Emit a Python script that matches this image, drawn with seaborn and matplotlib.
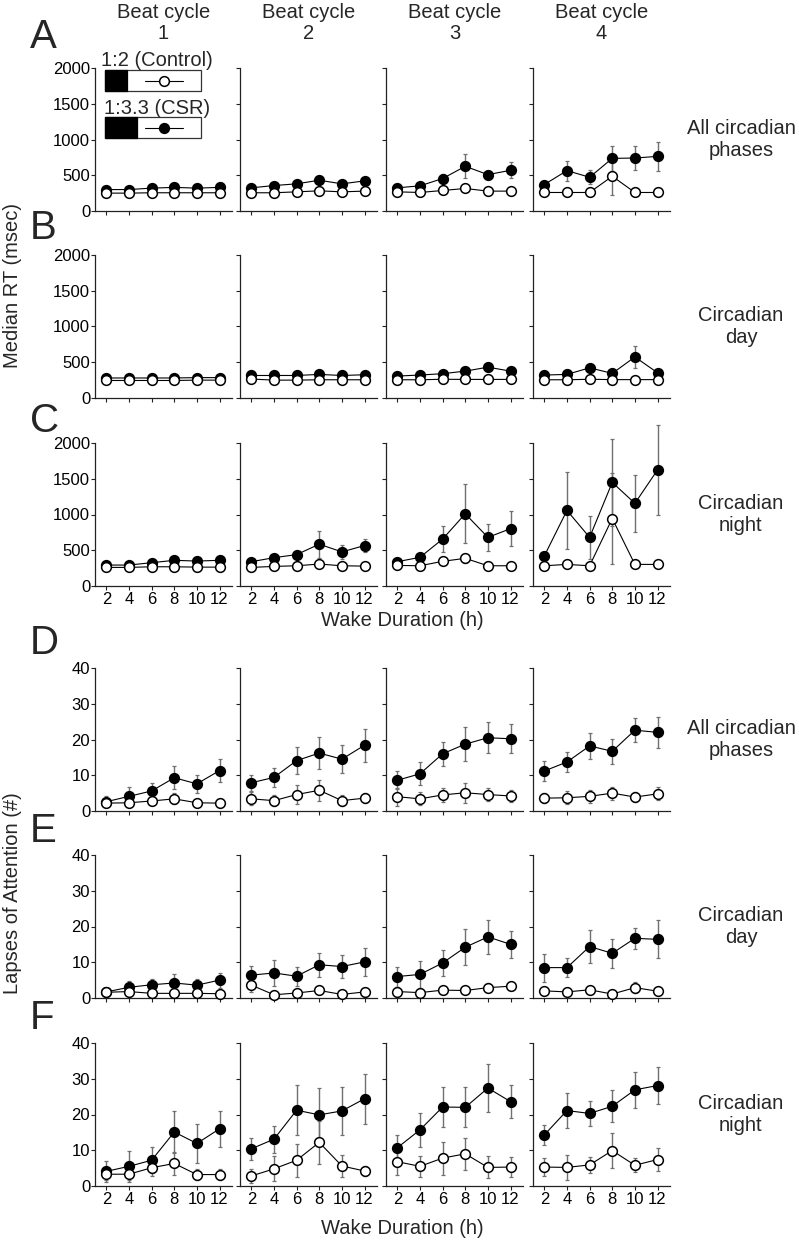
import pandas as pd
import matplotlib.pyplot as plt
import seaborn as sns
from matplotlib.patches import Rectangle
from matplotlib.lines import Line2D

hours = [2, 4, 6, 8, 10, 12]
cycles = [1, 2, 3, 4]

# Median RT (msec), all circadian phases
rt_all_ctrl = [[250, 250, 255, 255, 255, 255], [255, 255, 268, 282, 268, 278],
               [268, 259, 287, 315, 278, 278], [259, 259, 259, 486, 259, 259]]
rt_all_ctrl_err = [[20] * 6, [20, 20, 25, 30, 20, 25],
                   [20, 20, 30, 40, 25, 25], [20, 20, 25, 260, 25, 25]]
rt_all_csr = [[300, 300, 320, 330, 320, 330], [324, 356, 380, 430, 380, 421],
              [324, 352, 454, 625, 509, 569], [370, 565, 472, 736, 741, 764]]
rt_all_csr_err = [[20] * 6, [25, 30, 30, 40, 30, 35],
                  [30, 30, 60, 170, 55, 110], [40, 140, 100, 180, 170, 200]]

# Median RT, circadian day
rt_day_ctrl = [[245, 245, 245, 245, 250, 250], [265, 250, 250, 255, 255, 255],
               [255, 255, 262, 260, 260, 260], [255, 255, 262, 257, 257, 257]]
rt_day_ctrl_err = [[20] * 6, [20] * 6, [20] * 6, [20] * 6]
rt_day_csr = [[280, 280, 280, 280, 285, 285], [315, 315, 315, 330, 315, 325],
              [307, 321, 340, 376, 431, 376], [321, 330, 422, 344, 574, 353]]
rt_day_csr_err = [[20] * 6, [20] * 6, [20, 20, 25, 30, 35, 30],
                  [20, 20, 40, 30, 160, 40]]

# Median RT, circadian night
rt_night_ctrl = [[260, 260, 269, 269, 264, 264], [260, 274, 283, 307, 283, 278],
                 [288, 283, 345, 387, 283, 283], [283, 302, 283, 944, 302, 302]]
rt_night_ctrl_err = [[20] * 6, [20, 20, 30, 40, 30, 20],
                     [20, 25, 40, 60, 20, 20], [20, 30, 20, 640, 30, 30]]
rt_night_csr = [[293, 293, 326, 359, 349, 359], [340, 396, 439, 585, 477, 566],
                [340, 401, 656, 1010, 680, 802], [420, 1057, 680, 1449, 1156, 1624]]
rt_night_csr_err = [[20, 20, 20, 25, 25, 25], [30, 40, 45, 190, 95, 95],
                    [30, 40, 180, 410, 190, 240], [40, 540, 300, 610, 400, 630]]

# Lapses of attention (#), all circadian phases
lp_all_ctrl = [[2.2, 2.3, 2.8, 3.4, 2.3, 2.2], [3.4, 2.9, 4.6, 5.8, 2.9, 3.6],
               [4.0, 3.4, 4.5, 5.1, 4.6, 4.2], [3.6, 3.7, 4.1, 5.0, 3.9, 4.8]]
lp_all_ctrl_err = [[1.2, 1.2, 1.2, 1.5, 1.0, 1.0], [1.8, 1.5, 2.7, 3.0, 1.5, 1.5],
                   [2.5, 1.8, 2.0, 2.8, 1.8, 1.8], [1.5, 1.8, 1.8, 1.8, 1.5, 1.8]]
lp_all_csr = [[2.6, 4.1, 5.6, 9.3, 7.6, 11.3], [7.9, 9.4, 14.1, 16.2, 14.5, 18.4],
              [8.6, 10.4, 16.0, 18.7, 20.5, 20.2], [11.2, 13.7, 18.2, 16.7, 22.6, 22.0]]
lp_all_csr_err = [[1.5, 2.5, 2.2, 3.2, 2.6, 3.2], [2.2, 2.6, 3.8, 4.4, 3.9, 4.6],
                  [2.5, 3.2, 3.4, 4.8, 4.4, 4.1], [2.9, 2.8, 3.7, 3.5, 3.4, 4.3]]

# Lapses, circadian day
lp_day_ctrl = [[1.6, 1.8, 1.3, 1.3, 1.3, 1.2], [3.6, 0.9, 1.4, 2.1, 1.0, 1.7],
               [1.8, 1.5, 2.2, 2.1, 2.9, 3.3], [2.0, 1.7, 2.3, 1.1, 2.9, 1.9]]
lp_day_ctrl_err = [[0.8] * 6, [2.0, 0.6, 1.0, 0.8, 0.6, 0.8],
                   [1.2, 1.0, 1.0, 0.8, 1.2, 1.2], [1.0, 0.8, 0.8, 0.8, 1.5, 0.8]]
lp_day_csr = [[1.7, 3.0, 3.7, 4.2, 3.6, 5.0], [6.4, 7.0, 6.1, 9.3, 8.8, 10.1],
              [6.0, 6.6, 9.8, 14.2, 17.1, 15.0], [8.5, 8.5, 14.4, 12.5, 16.7, 16.4]]
lp_day_csr_err = [[1.0, 1.8, 1.5, 2.4, 1.6, 2.1], [2.6, 3.7, 2.7, 3.3, 3.2, 3.9],
                  [2.8, 3.7, 3.6, 5.0, 4.7, 3.8], [3.9, 2.7, 4.7, 4.0, 2.9, 5.3]]

# Lapses, circadian night
lp_night_ctrl = [[3.3, 3.3, 5.1, 6.3, 3.2, 3.2], [2.8, 4.8, 7.2, 12.2, 5.6, 4.2],
                 [6.8, 5.5, 7.8, 9.0, 5.2, 5.3], [5.3, 5.2, 5.9, 9.9, 5.8, 7.4]]
lp_night_ctrl_err = [[1.7, 1.7, 2.2, 3.2, 1.5, 1.5], [2.0, 3.5, 4.6, 6.0, 3.0, 1.5],
                     [3.8, 3.0, 4.6, 4.5, 3.1, 2.7], [2.6, 3.4, 2.3, 5.0, 2.0, 3.2]]
lp_night_csr = [[4.1, 5.5, 7.2, 15.1, 11.9, 16.0], [10.4, 13.1, 21.2, 19.9, 21.0, 24.4],
                [10.7, 15.7, 22.1, 22.0, 27.4, 23.6], [14.3, 21.1, 20.3, 22.3, 26.9, 28.1]]
lp_night_csr_err = [[2.9, 4.3, 3.6, 5.8, 5.5, 5.0], [3.0, 3.8, 7.0, 7.4, 6.8, 7.0],
                    [3.6, 4.7, 5.6, 5.6, 6.7, 4.7], [2.9, 5.0, 3.6, 4.5, 5.1, 5.3]]

row_letters = ["A", "B", "C", "D", "E", "F"]
row_names = ["All circadian\nphases", "Circadian\nday", "Circadian\nnight"] * 2

panels = [
    (rt_all_ctrl, rt_all_ctrl_err, rt_all_csr, rt_all_csr_err),
    (rt_day_ctrl, rt_day_ctrl_err, rt_day_csr, rt_day_csr_err),
    (rt_night_ctrl, rt_night_ctrl_err, rt_night_csr, rt_night_csr_err),
    (lp_all_ctrl, lp_all_ctrl_err, lp_all_csr, lp_all_csr_err),
    (lp_day_ctrl, lp_day_ctrl_err, lp_day_csr, lp_day_csr_err),
    (lp_night_ctrl, lp_night_ctrl_err, lp_night_csr, lp_night_csr_err),
]

records = []
for r, (ctrl, ctrl_err, csr, csr_err) in enumerate(panels):
    for c, cyc in enumerate(cycles):
        for grp, vals, errs in [("Control", ctrl, ctrl_err), ("CSR", csr, csr_err)]:
            for h, v, e in zip(hours, vals[c], errs[c]):
                records.append({"row": r, "cycle": cyc, "hours": h, "group": grp,
                                "value": v, "err": e})
df = pd.DataFrame(records)

sns.set_theme(style="ticks")
plt.rcParams["font.family"] = ["Liberation Sans", "DejaVu Sans"]

W, H = 799, 1260
fig = plt.figure(figsize=(W / 100, H / 100), dpi=100)

col_left = [95, 240, 386, 533]
row_top = [68, 255, 443, 668, 855, 1043]
aw, ah = 137, 143


def fx(x):
    return x / W


def fy(y):
    return 1 - y / H


for r in range(6):
    for c in range(4):
        ax = fig.add_axes([fx(col_left[c]), fy(row_top[r] + ah), aw / W, ah / H])
        sub = df[(df["row"] == r) & (df["cycle"] == cycles[c])]
        for grp, face, z in [("CSR", "black", 3), ("Control", "white", 4)]:
            g = sub[sub["group"] == grp]
            ax.errorbar(g["hours"], g["value"], yerr=g["err"], fmt="none",
                        ecolor="#707070", elinewidth=1.0, capsize=1.6,
                        capthick=0.9, zorder=1, clip_on=False)
            sns.lineplot(data=g, x="hours", y="value", ax=ax, color="black",
                         lw=0.8, marker="o", markersize=7, markerfacecolor=face,
                         markeredgecolor="black", markeredgewidth=1.1,
                         zorder=z, clip_on=False, legend=False, errorbar=None)
        ax.set_xlim(1.0, 13.1)
        ax.set_xticks(hours)
        if r < 3:
            ax.set_ylim(0, 2000)
            ax.set_yticks([0, 500, 1000, 1500, 2000])
        else:
            ax.set_ylim(0, 40)
            ax.set_yticks([0, 10, 20, 30, 40])
        ax.set_xlabel("")
        ax.set_ylabel("")
        sns.despine(ax=ax)
        for s in ["left", "bottom"]:
            ax.spines[s].set_linewidth(0.9)
            ax.spines[s].set_color("#222222")
        ax.tick_params(direction="out", length=3, width=0.8, color="#222222",
                       labelsize=12, labelcolor="black")
        ax.tick_params(axis="y", pad=0.5)
        ax.tick_params(axis="x", pad=1.5)
        if c > 0:
            ax.tick_params(labelleft=False)
        if r not in (2, 5):
            ax.tick_params(labelbottom=False)

# column titles
for c, cyc in enumerate(cycles):
    fig.text(fx(col_left[c] + aw / 2), fy(3), f"Beat cycle\n{cyc}", ha="center",
             va="top", fontsize=14.5, linespacing=1.15)

# row letters and row names
letter_y = [37, 228, 421, 643, 831, 1018]
for r in range(6):
    fig.text(fx(30), fy(letter_y[r]), row_letters[r], ha="left", va="center",
             fontsize=29)
    fig.text(fx(741), fy(row_top[r] + ah / 2), row_names[r], ha="center",
             va="center", fontsize=14.5, linespacing=1.15)

# axis labels
fig.text(fx(13), fy(285), "Median RT (msec)", rotation=90, ha="center",
         va="center", fontsize=14.5)
fig.text(fx(13), fy(893), "Lapses of Attention (#)", rotation=90, ha="center",
         va="center", fontsize=14.5)
fig.text(fx(402), fy(620), "Wake Duration (h)", ha="center", va="center",
         fontsize=14.5)
fig.text(fx(402), fy(1229), "Wake Duration (h)", ha="center", va="center",
         fontsize=14.5)

# schedule legend
legend_items = [("1:2 (Control)", 61, 70, 22, "white"),
                ("1:3.3 (CSR)", 108, 117, 32, "black")]
for label, ty, by, black_w, face in legend_items:
    fig.text(fx(157), fy(ty), label, ha="center", va="center", fontsize=14.5)
    fig.add_artist(Rectangle((fx(105), fy(by + 21)), 96 / W, 21 / H,
                             transform=fig.transFigure, facecolor="white",
                             edgecolor="#333333", lw=0.9, zorder=5))
    fig.add_artist(Rectangle((fx(105), fy(by + 21)), black_w / W, 21 / H,
                             transform=fig.transFigure, facecolor="black",
                             edgecolor="black", lw=0.9, zorder=6))
    ym = fy(by + 10.5)
    fig.add_artist(Line2D([fx(145), fx(183)], [ym, ym], transform=fig.transFigure,
                          color="black", lw=0.8, zorder=7))
    fig.add_artist(Line2D([fx(164)], [ym], transform=fig.transFigure, marker="o",
                          markersize=7, markerfacecolor=face,
                          markeredgecolor="black", markeredgewidth=1.1, zorder=8))

fig.savefig("out.png", dpi=100)
